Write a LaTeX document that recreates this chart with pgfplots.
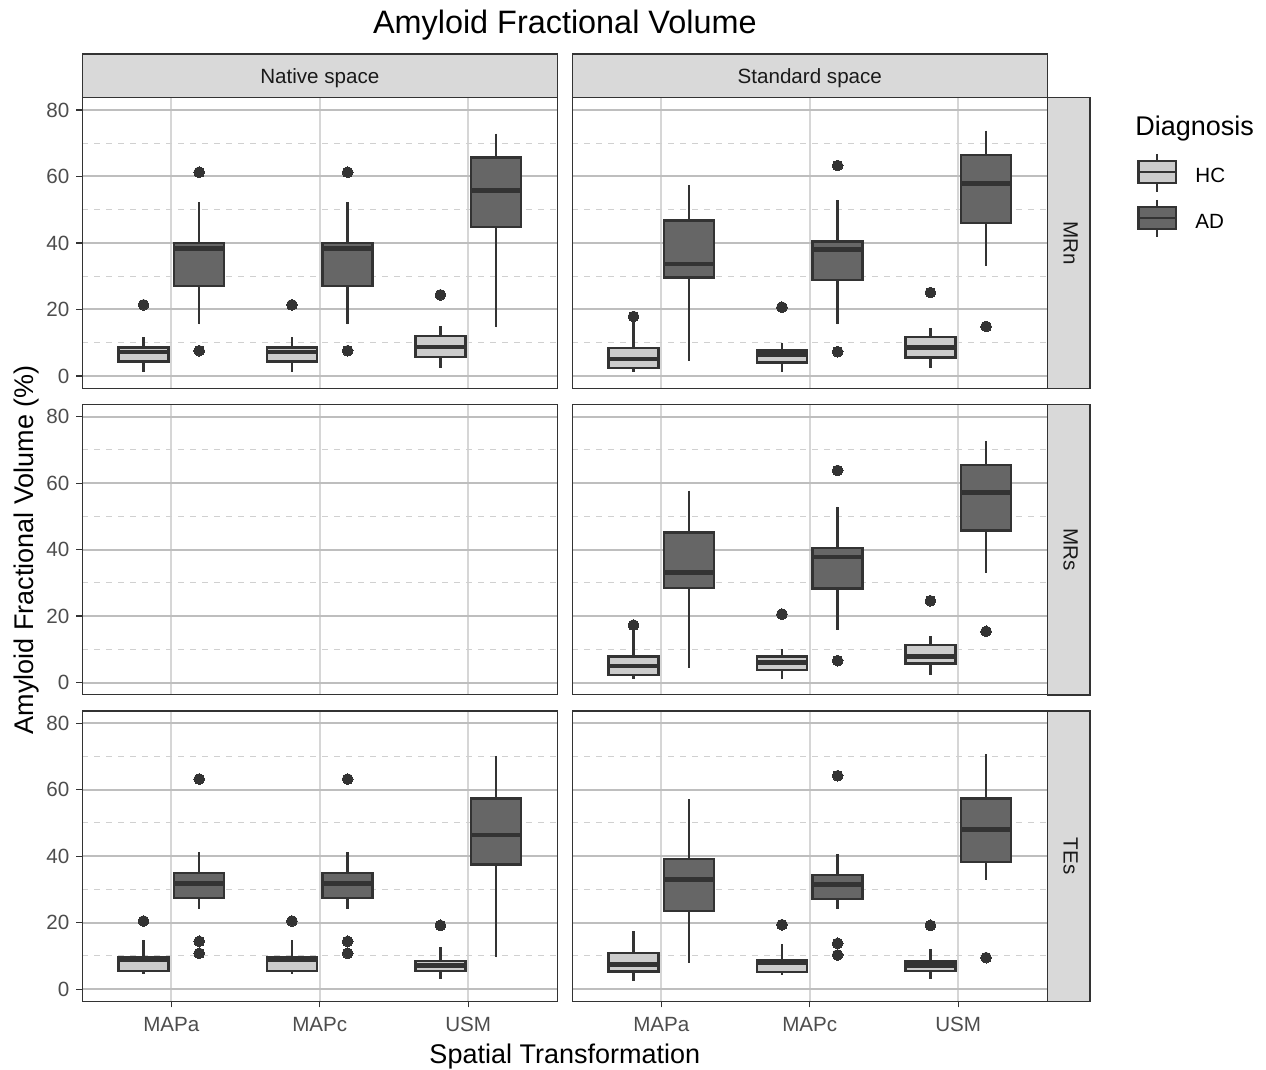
\documentclass[border=0pt]{standalone}
\usepackage{pgfplots}
\pgfplotsset{compat=1.18}
\usepgfplotslibrary{statistics}
\usepackage{fontspec}
\setmainfont{Liberation Sans}
\definecolor{c33}{HTML}{333333}
\definecolor{hcfill}{HTML}{CCCCCC}
\definecolor{adfill}{HTML}{666666}
\definecolor{stripfill}{HTML}{D9D9D9}
\definecolor{gridmaj}{HTML}{BEBEBE}
\definecolor{gridv}{HTML}{D6D6D6}
\definecolor{gridmin}{HTML}{D0D0D0}
\definecolor{ticklab}{HTML}{4D4D4D}
\definecolor{striptext}{HTML}{1A1A1A}

\pgfplotsset{
  panel/.style={
    scale only axis, width=237.5pt, height=145.3pt,
    anchor=north west,
    xmin=0.4, xmax=3.6, ymin=-3.7, ymax=83.7,
    xtick={1,2,3}, xticklabels={MAPa,MAPc,USM},
    ytick={0,20,40,60,80}, minor ytick={10,30,50,70},
    xmajorgrids, ymajorgrids, yminorgrids,
    major x grid style={draw=gridv, line width=1pt},
    major y grid style={draw=gridmaj, line width=1pt},
    minor y grid style={draw=gridmin, line width=0.5pt, dash pattern=on 3pt off 3pt},
    axis line style={draw=c33, line width=0.6pt},
    tick align=outside, xtick pos=bottom, ytick pos=left,
    major tick length=3pt, minor tick length=0pt,
    tick style={draw=c33, line width=0.6pt},
    /pgf/number format/assume math mode=true,
    tick label style={font=\fontsize{10.3}{12}\selectfont, text=ticklab},
    x tick label style={yshift=-1.5pt},
    boxplot/draw direction=y,
    boxplot/box extend=0.3375,
    boxplot/whisker extend=0,
    boxplot/every median/.style={line width=2.4pt},
  },
  nox/.style={xticklabels={}, xtick style={draw=none}},
  noy/.style={yticklabels={}, ytick style={draw=none}},
  hc/.style={draw=c33, fill=hcfill, line width=1.2pt, mark=*, mark size=2.7pt,
    mark options={draw=c33, fill=c33, line width=0pt, solid}},
  ad/.style={draw=c33, fill=adfill, line width=1.2pt, mark=*, mark size=2.7pt,
    mark options={draw=c33, fill=c33, line width=0pt, solid}},
}
% #1 position, #2 style, #3 lower whisker, #4 lower quartile, #5 median, #6 upper quartile, #7 upper whisker, #8 outliers
\newcommand{\bp}[8]{\addplot[#2, boxplot prepared={draw position=#1, lower whisker=#3, lower quartile=#4, median=#5, upper quartile=#6, upper whisker=#7}] coordinates {#8};}

\begin{document}
\begin{tikzpicture}
\path[use as bounding box] (0,0) rectangle (633pt,-535pt);

% Row 1: MRn
\begin{axis}[panel, nox, at={(41.15pt,-48.85pt)}]
\bp{0.8125}{hc}{1.2}{4.3}{7.2}{8.6}{11.6}{(0,21.4)}
\bp{1.1875}{ad}{15.5}{27.1}{38.3}{40.0}{52.3}{(0,61.3) (0,7.6)}
\bp{1.8125}{hc}{1.2}{4.3}{7.2}{8.6}{11.6}{(0,21.4)}
\bp{2.1875}{ad}{15.5}{27.1}{38.3}{40.0}{52.3}{(0,61.3) (0,7.6)}
\bp{2.8125}{hc}{2.3}{5.8}{8.7}{12.0}{15.0}{(0,24.4)}
\bp{3.1875}{ad}{14.6}{44.9}{55.9}{65.7}{72.9}{}
\end{axis}
\begin{axis}[panel, nox, noy, at={(286.15pt,-48.85pt)}]
\bp{0.8125}{hc}{1.3}{2.4}{5.1}{8.4}{16.9}{(0,17.9)}
\bp{1.1875}{ad}{4.6}{29.6}{33.7}{46.8}{57.5}{}
\bp{1.8125}{hc}{1.1}{4.0}{6.4}{7.7}{10.0}{(0,20.7)}
\bp{2.1875}{ad}{15.5}{28.9}{38.0}{40.4}{53.0}{(0,63.3) (0,7.3)}
\bp{2.8125}{hc}{2.3}{5.6}{8.6}{11.7}{14.4}{(0,25.1)}
\bp{3.1875}{ad}{33.2}{46.0}{58.0}{66.4}{73.8}{(0,14.9)}
\end{axis}

% Row 2: MRs
\begin{axis}[panel, nox, at={(41.15pt,-202.15pt)}]
\end{axis}
\begin{axis}[panel, nox, noy, at={(286.15pt,-202.15pt)}]
\bp{0.8125}{hc}{1.2}{2.2}{5.0}{7.9}{16.0}{(0,17.3)}
\bp{1.1875}{ad}{4.4}{28.5}{33.1}{45.2}{57.7}{}
\bp{1.8125}{hc}{1.0}{3.7}{6.0}{7.9}{10.2}{(0,20.6)}
\bp{2.1875}{ad}{15.8}{28.3}{37.8}{40.5}{52.9}{(0,63.8) (0,6.6)}
\bp{2.8125}{hc}{2.3}{5.7}{7.9}{11.3}{14.0}{(0,24.6)}
\bp{3.1875}{ad}{33.0}{45.7}{57.1}{65.5}{72.7}{(0,15.4)}
\end{axis}

% Row 3: TEs
\begin{axis}[panel, at={(41.15pt,-355.45pt)}]
\bp{0.8125}{hc}{4.7}{5.5}{8.8}{9.5}{14.9}{(0,20.5)}
\bp{1.1875}{ad}{24.2}{27.4}{31.9}{34.9}{41.2}{(0,63.2) (0,14.4) (0,10.8)}
\bp{1.8125}{hc}{4.7}{5.5}{8.8}{9.5}{14.9}{(0,20.5)}
\bp{2.1875}{ad}{24.2}{27.4}{31.9}{34.9}{41.2}{(0,63.2) (0,14.4) (0,10.8)}
\bp{2.8125}{hc}{3.2}{5.5}{7.1}{8.5}{12.7}{(0,19.2)}
\bp{3.1875}{ad}{9.6}{37.5}{46.4}{57.4}{70.2}{}
\end{axis}
\begin{axis}[panel, noy, at={(286.15pt,-355.45pt)}]
\bp{0.8125}{hc}{2.6}{5.3}{7.5}{10.9}{17.6}{}
\bp{1.1875}{ad}{8.0}{23.5}{32.9}{39.2}{57.2}{}
\bp{1.8125}{hc}{4.2}{5.1}{8.0}{8.7}{13.5}{(0,19.4)}
\bp{2.1875}{ad}{24.1}{27.1}{31.6}{34.4}{40.6}{(0,64.2) (0,13.8) (0,10.3)}
\bp{2.8125}{hc}{3.2}{5.5}{7.1}{8.3}{12.2}{(0,19.2)}
\bp{3.1875}{ad}{32.8}{38.3}{48.0}{57.4}{70.6}{(0,9.5)}
\end{axis}

% strips
\begin{scope}[draw=c33, line width=0.6pt, fill=stripfill]
\filldraw (41.15pt,-27pt) rectangle (278.65pt,-48.85pt);
\filldraw (286.15pt,-27pt) rectangle (523.65pt,-48.85pt);
\filldraw (523.65pt,-48.85pt) rectangle (545pt,-194.15pt);
\filldraw (523.65pt,-202.15pt) rectangle (545pt,-347.45pt);
\filldraw (523.65pt,-355.45pt) rectangle (545pt,-500.75pt);
\end{scope}
\begin{scope}[font=\fontsize{10.3}{12}\selectfont, text=striptext]
\node at (159.9pt,-39.2pt) {Native space};
\node at (404.9pt,-39.2pt) {Standard space};
\node[rotate=-90] at (535.3pt,-121.5pt) {MRn};
\node[rotate=-90] at (535.3pt,-274.8pt) {MRs};
\node[rotate=-90] at (535.3pt,-428.1pt) {TEs};
\end{scope}

% titles
\node[anchor=base, inner sep=0pt, font=\fontsize{16.2}{19}\selectfont] at (282.4pt,-16.8pt) {Amyloid Fractional Volume};
\node[anchor=base, inner sep=0pt, font=\fontsize{13.5}{16}\selectfont] at (282.4pt,-531.5pt) {Spatial Transformation};
\node[rotate=90, inner sep=0pt, font=\fontsize{13.5}{16}\selectfont] at (13.5pt,-274.8pt) {Amyloid Fractional Volume (\%)};

% legend
\node[anchor=base west, inner sep=0pt, font=\fontsize{13.5}{16}\selectfont] at (567.5pt,-68pt) {Diagnosis};
\begin{scope}[draw=c33, line width=1.1pt]
\draw (578.6pt,-77pt) -- (578.6pt,-96pt);
\filldraw[fill=hcfill] (569.2pt,-80.5pt) rectangle (588pt,-91.7pt);
\draw (569.2pt,-86.1pt) -- (588pt,-86.1pt);
\draw (578.6pt,-100pt) -- (578.6pt,-118.5pt);
\filldraw[fill=adfill] (569.2pt,-103.4pt) rectangle (588pt,-114.7pt);
\draw (569.2pt,-109pt) -- (588pt,-109pt);
\end{scope}
\node[anchor=west, inner sep=0pt, font=\fontsize{10.3}{12}\selectfont] at (597.5pt,-87.5pt) {HC};
\node[anchor=west, inner sep=0pt, font=\fontsize{10.3}{12}\selectfont] at (597.5pt,-110.5pt) {AD};
\end{tikzpicture}
\end{document}
